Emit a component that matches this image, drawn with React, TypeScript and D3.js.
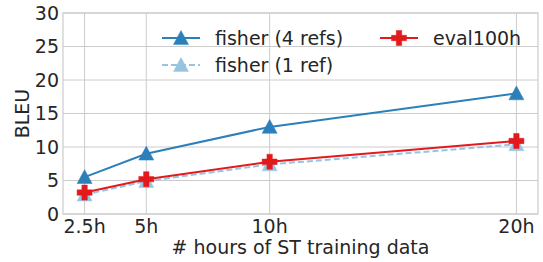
import { useEffect, useRef } from "react";
import * as d3 from "d3";

const hours = [2.5, 5, 10, 20];
const hourLabels = ["2.5h", "5h", "10h", "20h"];
const fisher4 = [5.5, 9.0, 13.0, 18.0];
const fisher1 = [2.9, 4.9, 7.4, 10.4];
const eval100h = [3.2, 5.2, 7.8, 10.9];
const yTicks = [0, 5, 10, 15, 20, 25, 30];

type Series = { name: string; values: number[]; color: string; dash: string | null; marker: "tri" | "plus" };

const series: Series[] = [
  { name: "fisher (4 refs)", values: fisher4, color: "#2b80ba", dash: null, marker: "tri" },
  { name: "fisher (1 ref)", values: fisher1, color: "#98c4e2", dash: "6,3", marker: "tri" },
  { name: "eval100h", values: eval100h, color: "#e31a1c", dash: null, marker: "plus" },
];

const triPath = (r: number) => `M0,${-r}L${r},${r * 0.85}L${-r},${r * 0.85}Z`;
const plusPath = (r: number) => {
  const a = r * 0.36;
  return `M${-a},${-r}H${a}V${-a}H${r}V${a}H${a}V${r}H${-a}V${a}H${-r}V${-a}H${-a}Z`;
};

export default function App() {
  const svgRef = useRef<SVGSVGElement>(null);

  useEffect(() => {
    if (!svgRef.current) return;
    const width = 543;
    const height = 262;
    const margin = { top: 13, right: 5, bottom: 48, left: 63 };
    const innerW = width - margin.left - margin.right;
    const innerH = height - margin.top - margin.bottom;
    const font = "DejaVu Sans";
    const fs = 19;
    const textColor = "#262626";

    const svg = d3.select(svgRef.current);
    svg.selectAll("*").remove();

    const x = d3.scaleLinear().domain([1.625, 20.875]).range([0, innerW]);
    const y = d3.scaleLinear().domain([0, 30]).range([innerH, 0]);

    const g = svg.append("g").attr("transform", `translate(${margin.left},${margin.top})`);

    // grid
    g.selectAll(".hgrid")
      .data(yTicks)
      .enter()
      .append("line")
      .attr("x1", 0)
      .attr("x2", innerW)
      .attr("y1", (d) => y(d))
      .attr("y2", (d) => y(d))
      .attr("stroke", "#cccccc")
      .attr("stroke-width", 1);
    g.selectAll(".vgrid")
      .data(hours)
      .enter()
      .append("line")
      .attr("x1", (d) => x(d))
      .attr("x2", (d) => x(d))
      .attr("y1", 0)
      .attr("y2", innerH)
      .attr("stroke", "#cccccc")
      .attr("stroke-width", 1);
    g.append("rect")
      .attr("width", innerW)
      .attr("height", innerH)
      .attr("fill", "none")
      .attr("stroke", "#cccccc")
      .attr("stroke-width", 1.2);

    // tick labels
    g.selectAll(".ytick")
      .data(yTicks)
      .enter()
      .append("text")
      .attr("x", -4)
      .attr("y", (d) => y(d))
      .attr("dy", "0.36em")
      .attr("text-anchor", "end")
      .attr("font-family", font)
      .attr("font-size", fs)
      .attr("fill", textColor)
      .text((d) => String(d));
    g.selectAll(".xtick")
      .data(hours)
      .enter()
      .append("text")
      .attr("x", (d) => x(d))
      .attr("y", 233 - margin.top)
      .attr("text-anchor", "middle")
      .attr("font-family", font)
      .attr("font-size", fs)
      .attr("fill", textColor)
      .text((d, i) => hourLabels[i]);

    svg.append("text")
      .attr("x", margin.left + innerW / 2)
      .attr("y", 254)
      .attr("text-anchor", "middle")
      .attr("font-family", font)
      .attr("font-size", fs)
      .attr("fill", textColor)
      .text("# hours of ST training data");
    svg.append("text")
      .attr("transform", `translate(28.5,${margin.top + innerH / 2}) rotate(-90)`)
      .attr("text-anchor", "middle")
      .attr("font-family", font)
      .attr("font-size", fs)
      .attr("fill", textColor)
      .text("BLEU");

    const line = d3
      .line<number>()
      .x((d, i) => x(hours[i]))
      .y((d) => y(d));

    const drawMarker = (sel: d3.Selection<SVGGElement, unknown, null, undefined>, s: Series, cx: number, cy: number) => {
      sel.append("path")
        .attr("transform", `translate(${cx},${cy})`)
        .attr("d", s.marker === "tri" ? triPath(7.5) : plusPath(7.5))
        .attr("fill", s.color)
        .attr("stroke", s.color)
        .attr("stroke-width", 0.5);
    };

    [series[1], series[0], series[2]].forEach((s) => {
      const sg = g.append("g");
      sg.append("path")
        .attr("d", line(s.values))
        .attr("fill", "none")
        .attr("stroke", s.color)
        .attr("stroke-width", 2)
        .attr("stroke-dasharray", s.dash ?? null);
      s.values.forEach((v, i) => drawMarker(sg, s, x(hours[i]), y(v)));
    });

    // legend (2 columns)
    const legendPos = [
      { lx: 162, ly: 38 },
      { lx: 162, ly: 65 },
      { lx: 380, ly: 38 },
    ];
    series.forEach((s, i) => {
      const { lx, ly } = legendPos[i];
      const lg = svg.append("g");
      lg.append("line")
        .attr("x1", lx)
        .attr("x2", lx + 38)
        .attr("y1", ly)
        .attr("y2", ly)
        .attr("stroke", s.color)
        .attr("stroke-width", 2)
        .attr("stroke-dasharray", s.dash ?? null);
      drawMarker(lg, s, lx + 19, ly);
      lg.append("text")
        .attr("x", lx + 53)
        .attr("y", ly)
        .attr("dy", "0.36em")
        .attr("font-family", font)
        .attr("font-size", fs)
        .attr("fill", textColor)
        .text(s.name);
    });
  }, []);

  return (
    <svg
      ref={svgRef}
      width={543}
      height={262}
      style={{ position: "absolute", left: 0, top: 0, background: "#fff" }}
    />
  );
}
